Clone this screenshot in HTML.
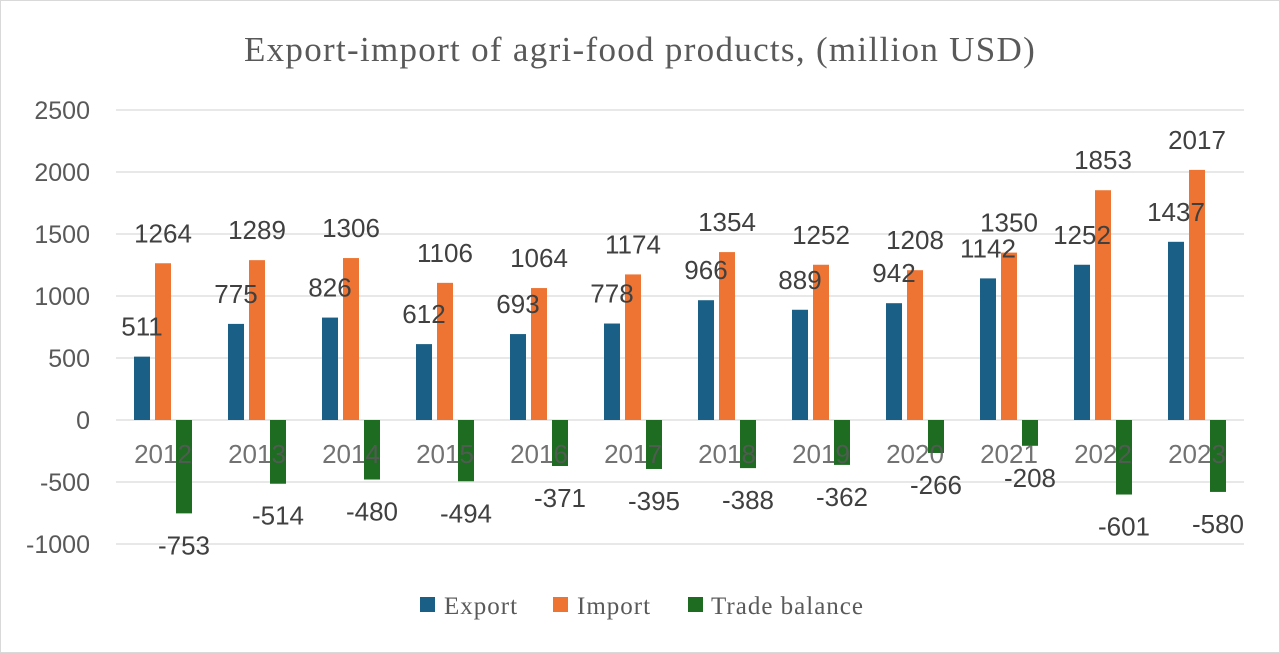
<!DOCTYPE html>
<html><head><meta charset="utf-8"><style>
html,body{margin:0;padding:0;background:#fff;}
svg{display:block;}
</style></head><body>
<svg id="chart" width="1280" height="653" viewBox="0 0 1280 653">
<rect x="0.5" y="0.5" width="1279" height="652" fill="#fff" stroke="#d9d9d9"/>
<text x="640" y="61" text-anchor="middle" font-family="Liberation Serif, serif" font-size="35" letter-spacing="1.3" fill="#595959">Export-import of agri-food products, (million USD)</text>
<g id="grid"></g><g id="bars"></g><g id="labels"></g>
<g font-family="Liberation Serif, serif" font-size="25" letter-spacing="1" fill="#595959">
<rect x="420" y="597" width="15" height="15" fill="#1a5f85"/>
<text x="444" y="614">Export</text>
<rect x="553" y="597" width="15" height="15" fill="#ed7432"/>
<text x="577" y="614">Import</text>
<rect x="688" y="597" width="15" height="15" fill="#1e6b22"/>
<text x="711" y="614">Trade balance</text>
</g>
</svg>
<script>
const categories=["2012","2013","2014","2015","2016","2017","2018","2019","2020","2021","2022","2023"];
const exportVals=[511,775,826,612,693,778,966,889,942,1142,1252,1437];
const importVals=[1264,1289,1306,1106,1064,1174,1354,1252,1208,1350,1853,2017];
const tradeVals=[-753,-514,-480,-494,-371,-395,-388,-362,-266,-208,-601,-580];
const yTicks=[2500,2000,1500,1000,500,0,-500,-1000];
const NS="http://www.w3.org/2000/svg";
const left=116,step=94,y0=420,k=0.124;
const y=v=>y0-v*k;
const xc=i=>left+step*i+step/2;
function mk(tag,attrs,parent){const e=document.createElementNS(NS,tag);for(const a in attrs)e.setAttribute(a,attrs[a]);parent.appendChild(e);return e;}
const grid=document.getElementById('grid'),bars=document.getElementById('bars'),labels=document.getElementById('labels');
yTicks.forEach(t=>{
 const l=mk('line',{x1:left,x2:left+step*12,y1:y(t),y2:y(t),stroke:'#d9d9d9','stroke-width':1.3},grid);
 
 
 const tx=mk('text',{x:90,y:y(t)+9,'text-anchor':'end','font-family':'Liberation Sans, sans-serif','font-size':25,fill:'#595959'},grid);
 tx.textContent=t;
 
 
});
const series=[[exportVals,'#1a5f85',-21,'export'],[importVals,'#ed7432',0,'import'],[tradeVals,'#1e6b22',21,'trade-balance']];
categories.forEach((c,i)=>{
 series.forEach(([vals,col,off,nm])=>{
  const v=vals[i],cx=xc(i)+off,w=16;
  const top=Math.min(y(v),y0),h=Math.abs(y(v)-y0);
  const r=mk('rect',{x:cx-w/2,y:top,width:w,height:h,fill:col},bars);
  
  
  const ly=v>=0?y(v)-21:y(v)+41;
  const t=mk('text',{x:cx,y:ly,'text-anchor':'middle','font-family':'Liberation Sans, sans-serif','font-size':26,fill:'#404040'},labels);
  t.textContent=v;
  
  
 });
 const ct=mk('text',{x:xc(i),y:y0+43,'text-anchor':'middle','font-family':'Liberation Sans, sans-serif','font-size':26,fill:'#595959','fill-opacity':0.85},labels);
 ct.textContent=c;
 
 
});
</script>
</body></html>
